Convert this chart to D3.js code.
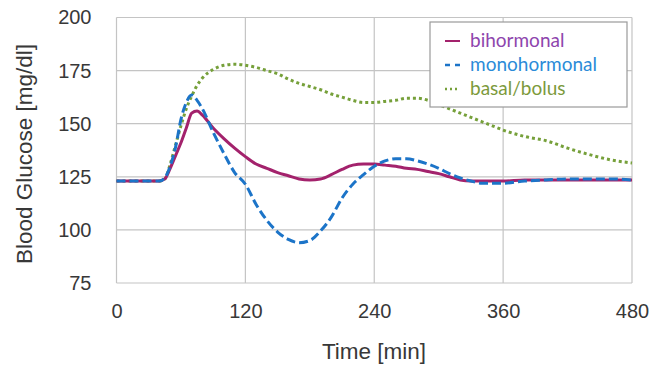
<!DOCTYPE html>
<html>
<head>
<meta charset="utf-8">
<script src="https://cdn.jsdelivr.net/npm/d3@7"></script>
<style>
  body { margin: 0; background: #fff; }
  svg { display: block; }
</style>
</head>
<body>
<div id="chart"></div>
<script>
// tempo (min) comum as tres series
const times = [0, 40, 45, 50, 55, 60, 65, 70, 75, 80, 90, 100, 110, 120, 130, 140, 150,
  160, 170, 180, 190, 200, 210, 220, 230, 240, 250, 260, 270, 280, 290, 300, 310, 320,
  330, 340, 350, 360, 380, 400, 420, 440, 460, 480];

const bihormonal = [123, 123, 124, 129, 135, 141, 148, 155, 156, 154, 148, 143, 138.5,
  134.5, 131, 129, 127, 125.5, 124, 123.5, 124, 126, 128.5, 130.5, 131, 131, 130.5, 130,
  129, 128.5, 127.5, 126.5, 125, 123.5, 123, 123, 123, 123, 123.5, 123.5, 123.5, 123.5,
  123.5, 123.5];

const monohormonal = [123, 123, 124.5, 130, 139, 152, 160, 163.5, 161, 157, 146, 136, 127,
  121.5, 112, 104.5, 99, 95.5, 94, 95, 99.5, 106, 115, 121.5, 126, 130, 132.5, 133.5, 133.5,
  132.5, 131, 129, 126.5, 124.5, 123, 122, 122, 122, 123, 123.5, 124, 124, 124, 123.5];

const basalBolus = [123, 123, 124, 131, 140, 149, 157, 163, 168, 171.5, 175.5, 177.5, 178,
  177.5, 176.5, 175, 173.5, 171, 169, 167.5, 166, 164, 162.5, 161, 160, 160, 160.5, 161,
  162, 162, 161, 159, 157, 155, 153, 151, 149, 147, 144, 142, 138.5, 135.5, 133, 131.5];

const xTicks = [0, 120, 240, 360, 480];
const yTicks = [75, 100, 125, 150, 175, 200];

const seriesNames = ["bihormonal", "monohormonal", "basal/bolus"];

// estilos das series
const styles = {
  bihormonal: { stroke: "#a3226c", text: "#8e45ad", dash: null, data: bihormonal },
  monohormonal: { stroke: "#1c74c8", text: "#2b8bd8", dash: "9,4", data: monohormonal },
  "basal/bolus": { stroke: "#76a03a", text: "#7c9a3c", dash: "3,3", data: basalBolus },
};

const W = 660, H = 366;
const margin = { top: 17.5, right: 28, bottom: 83, left: 116.5 };
const width = W - margin.left - margin.right;
const height = H - margin.top - margin.bottom;

const svg = d3.select("#chart").append("svg")
  .attr("width", W)
  .attr("height", H);

const g = svg.append("g")
  .attr("transform", `translate(${margin.left},${margin.top})`);

const x = d3.scaleLinear().domain([0, 480]).range([0, width]);
const y = d3.scaleLinear().domain([75, 200]).range([height, 0]);

// grade
g.append("g")
  .selectAll("line")
  .data(yTicks)
  .join("line")
  .attr("x1", 0).attr("x2", width)
  .attr("y1", d => y(d)).attr("y2", d => y(d))
  .attr("stroke", "#c4c4c4")
  .attr("stroke-width", 1.2);

g.append("g")
  .selectAll("line")
  .data(xTicks)
  .join("line")
  .attr("y1", 0).attr("y2", height)
  .attr("x1", d => x(d)).attr("x2", d => x(d))
  .attr("stroke", "#c4c4c4")
  .attr("stroke-width", 1.2);

// eixos
const axisFont = "'Liberation Sans', Arial, sans-serif";

g.append("g")
  .attr("transform", `translate(0,${height})`)
  .call(d3.axisBottom(x).tickValues(xTicks).tickSize(0).tickPadding(21))
  .call(a => a.select(".domain").remove())
  .selectAll("text")
  .attr("font-family", axisFont)
  .attr("font-size", "20px")
  .attr("fill", "#383838");

g.append("g")
  .call(d3.axisLeft(y).tickValues(yTicks).tickSize(0).tickPadding(25))
  .call(a => a.select(".domain").remove())
  .selectAll("text")
  .attr("font-family", axisFont)
  .attr("font-size", "20px")
  .attr("fill", "#383838");

svg.append("text")
  .attr("x", 374)
  .attr("y", 358.5)
  .attr("text-anchor", "middle")
  .attr("font-family", axisFont)
  .attr("font-size", "22.5px")
  .attr("fill", "#383838")
  .text("Time [min]");

svg.append("text")
  .attr("transform", "translate(32,154) rotate(-90)")
  .attr("text-anchor", "middle")
  .attr("font-family", axisFont)
  .attr("font-size", "22.5px")
  .attr("fill", "#383838")
  .text("Blood Glucose [mg/dl]");

// linhas
const line = d3.line()
  .x((d, i) => x(times[i]))
  .y(d => y(d))
  .curve(d3.curveMonotoneX);

["basal/bolus", "bihormonal", "monohormonal"].forEach(name => {
  const s = styles[name];
  g.append("path")
    .datum(s.data)
    .attr("fill", "none")
    .attr("stroke", s.stroke)
    .attr("stroke-width", 3)
    .attr("stroke-dasharray", s.dash)
    .attr("d", line);
});

// legenda
const legend = svg.append("g").attr("transform", "translate(430,22)");
legend.append("rect")
  .attr("width", 197).attr("height", 85)
  .attr("fill", "#fff")
  .attr("stroke", "#9a9a9a")
  .attr("stroke-width", 1.2);

seriesNames.forEach((name, i) => {
  const s = styles[name];
  const cy = 19 + i * 24;
  legend.append("line")
    .attr("x1", 15).attr("x2", 30)
    .attr("y1", cy).attr("y2", cy)
    .attr("stroke", s.stroke)
    .attr("stroke-width", name === "bihormonal" ? 2 : 2.5)
    .attr("stroke-dasharray", name === "monohormonal" ? "5,5" : name === "basal/bolus" ? "2,3" : null);
  legend.append("text")
    .attr("x", 40).attr("y", cy + 6)
    .attr("font-family", "Lato, 'Open Sans', sans-serif")
    .attr("font-size", "19px")
    .attr("fill", s.text)
    .text(name);
});
</script>
</body>
</html>
